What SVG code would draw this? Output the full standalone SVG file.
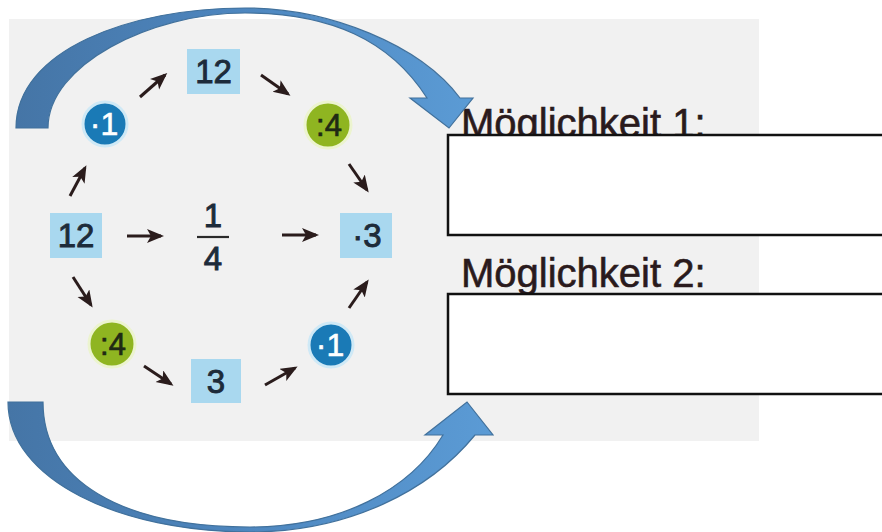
<svg xmlns="http://www.w3.org/2000/svg" width="882" height="532" viewBox="0 0 882 532">
<defs>
<linearGradient id="bg" x1="0" y1="0" x2="1" y2="0">
<stop offset="0" stop-color="#4575a6"/>
<stop offset="0.45" stop-color="#4d85bd"/>
<stop offset="1" stop-color="#5b9bd5"/>
</linearGradient>
<marker id="ah" markerUnits="userSpaceOnUse" markerWidth="18" markerHeight="16" refX="14" refY="7" orient="auto">
<path d="M0,0 L17,7 L0,14 L4,7 z" fill="#2a1c1c"/>
</marker>
<style>
.num{font-family:"Liberation Sans",Arial,sans-serif;font-size:33px;text-anchor:middle;fill:#1d2b3a;stroke:#1d2b3a;stroke-width:0.9}
.cw{font-family:"Liberation Sans",Arial,sans-serif;font-size:32px;text-anchor:middle;fill:#ffffff;stroke:#ffffff;stroke-width:0.6}
.cg{font-family:"Liberation Sans",Arial,sans-serif;font-size:31px;text-anchor:middle;fill:#1f2a14;stroke:#1f2a14;stroke-width:0.7}
.box{fill:#a9d8ef}
.cb{fill:#1a7ab6;stroke:#cfe9f6;stroke-width:3}
.cgr{fill:#8fb521;stroke:#ecf4cf;stroke-width:3}
.lbl{font-family:"Liberation Sans",Arial,sans-serif;font-size:40px;fill:#2a1a1c;stroke:#2a1a1c;stroke-width:0.6}
.ans{fill:#ffffff;stroke:#111111;stroke-width:2.5}
.big{fill:url(#bg);stroke:#41719c;stroke-width:1.2}
.con line{stroke:#2a1c1c;stroke-width:3;marker-end:url(#ah)}
</style>
</defs>
<rect x="0" y="0" width="882" height="532" fill="#ffffff"/>
<rect x="9" y="19" width="750" height="422" fill="#f1f1f1"/>

<g id="label1"><text class="lbl" x="461" y="137">Möglichkeit 1:</text></g>
<g id="answer1"><rect class="ans" x="448" y="135" width="445" height="100"/></g>
<g id="label2"><text class="lbl" x="461" y="287">Möglichkeit 2:</text></g>
<g id="answer2"><rect class="ans" x="448" y="294" width="445" height="100"/></g>

<g id="n-top12"><rect class="box" x="187" y="49" width="53" height="45"/><text class="num" x="213.5" y="83">12</text></g>
<g id="n-left12"><rect class="box" x="50" y="213" width="52" height="45"/><text class="num" x="76" y="247">12</text></g>
<g id="n-mul3"><rect class="box" x="340" y="213" width="52" height="45"/><text class="num" x="367" y="247">·3</text></g>
<g id="n-3"><rect class="box" x="191" y="359" width="50" height="44"/><text class="num" x="216" y="393">3</text></g>
<g id="n-mul1-top"><circle class="cb" cx="105" cy="124" r="22"/><text class="cw" x="104" y="135">·1</text></g>
<g id="n-div4-top"><circle class="cgr" cx="328" cy="125" r="23"/><text class="cg" x="329" y="136">:4</text></g>
<g id="n-div4-bot"><circle class="cgr" cx="112" cy="344" r="23"/><text class="cg" x="113" y="355">:4</text></g>
<g id="n-mul1-bot"><circle class="cb" cx="331" cy="345" r="22"/><text class="cw" x="330" y="356">·1</text></g>
<g id="n-frac">
<text class="num" x="213" y="227">1</text>
<line x1="197" y1="237" x2="229" y2="237" stroke="#2a2a2a" stroke-width="2.2"/>
<text class="num" x="213" y="270">4</text>
</g>

<g id="connectors" class="con">
<line x1="140" y1="97" x2="165" y2="75"/>
<line x1="261" y1="75" x2="288" y2="94"/>
<line x1="349" y1="164" x2="367" y2="190"/>
<line x1="70" y1="196" x2="85" y2="168"/>
<line x1="127" y1="236" x2="161" y2="236"/>
<line x1="282" y1="235" x2="316" y2="235"/>
<line x1="73" y1="277" x2="91" y2="305"/>
<line x1="144" y1="366" x2="171" y2="384"/>
<line x1="265" y1="385" x2="295" y2="368"/>
<line x1="349" y1="308" x2="367" y2="282"/>
</g>

<g id="big-arrows">
<path class="big" d="M16,128 C16,50 130,8 245,8 C330,8 420,45 460,98 L473,98 L449,128 L410,98 L427,98 C390,40 330,13 245,13 C150,13 48,65 48,128 Z"/>
<path class="big" d="M8,402 C8,480 120,532 250,532 C350,532 430,490 475,435 L493,435 L467,402 L425,435 L443,435 C410,490 340,527 250,527 C120,527 43,480 43,402 Z"/>
</g>
</svg>
